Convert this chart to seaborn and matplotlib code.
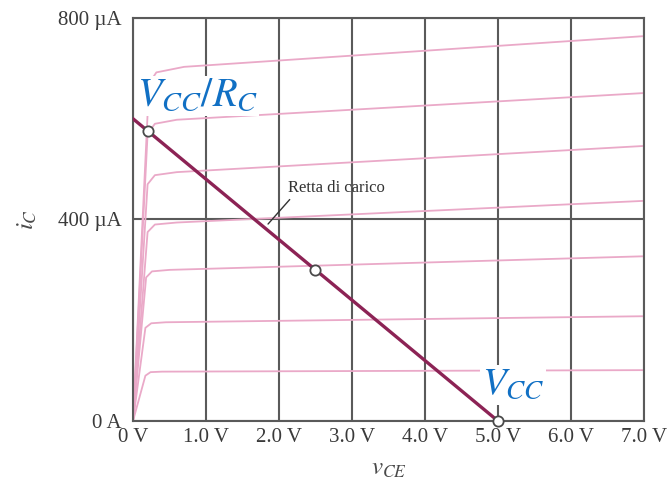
import matplotlib
matplotlib.use("Agg")
import matplotlib.pyplot as plt
import pandas as pd
import seaborn as sns

# Output characteristics i_C(v_CE), one curve per base-current step
curve_vce = [
    [0.0, 0.17, 0.24, 0.40, 7.0],
    [0.0, 0.17, 0.25, 0.45, 7.0],
    [0.0, 0.18, 0.26, 0.50, 7.0],
    [0.0, 0.20, 0.30, 0.60, 7.0],
    [0.0, 0.20, 0.30, 0.60, 7.0],
    [0.0, 0.20, 0.30, 0.60, 7.0],
    [0.0, 0.22, 0.32, 0.70, 7.0],
]
curve_ic = [
    [0, 90, 97, 98, 101],
    [0, 185, 194, 196, 208],
    [0, 285, 297, 300, 327],
    [0, 375, 390, 394, 437],
    [0, 470, 488, 494, 546],
    [0, 570, 590, 598, 651],
    [0, 670, 692, 703, 764],
]

# Load line from V_CC/R_C (v_CE = 0) to V_CC (i_C = 0)
load_vce = [0.0, 5.0]
load_ic = [600, 0]

# Marked operating points on the load line
point_vce = [0.2, 2.5, 5.0]
point_ic = [576, 300, 0]

x_ticks = [0, 1, 2, 3, 4, 5, 6, 7]
x_labels = ["0 V", "1.0 V", "2.0 V", "3.0 V", "4.0 V", "5.0 V", "6.0 V", "7.0 V"]
y_ticks = [0, 400, 800]
y_labels = ["0 A", "400 µA", "800 µA"]

sns.set_theme(style="white")
plt.rcParams["font.family"] = ["Liberation Serif", "DejaVu Serif"]
plt.rcParams["mathtext.fontset"] = "stix"

fig = plt.figure(figsize=(6.7, 4.9), dpi=100)
ax = fig.add_axes([0.1985, 0.1408, 0.7627, 0.8225])

rows = []
for k, (vs, cs) in enumerate(zip(curve_vce, curve_ic)):
    for v, c in zip(vs, cs):
        rows.append({"curve": k, "vce": v, "ic": c})
curves = pd.DataFrame(rows)

sns.lineplot(data=curves, x="vce", y="ic", units="curve", estimator=None,
             sort=False, color="#eaa9c8", linewidth=1.3, ax=ax, zorder=2)

sns.lineplot(x=load_vce, y=load_ic, color="#8c2355", linewidth=2.4,
             ax=ax, zorder=3)

sns.scatterplot(x=point_vce, y=point_ic, s=55, facecolor="white",
                edgecolor="#4a4a4a", linewidth=1.3, ax=ax, zorder=5,
                clip_on=False)

ax.set_xlim(0, 7)
ax.set_ylim(0, 800)
ax.set_xticks(x_ticks)
ax.set_xticklabels(x_labels)
ax.set_yticks(y_ticks)
ax.set_yticklabels(y_labels)
ax.tick_params(axis="both", length=0, labelsize=15, labelcolor="#3a3a3a")
ax.tick_params(axis="x", pad=5)
ax.tick_params(axis="y", pad=8)

ax.grid(True, color="#5a5a5a", linewidth=1.5)
ax.set_axisbelow(True)
for s in ax.spines.values():
    s.set_color("#5a5a5a")
    s.set_linewidth(1.5)

ax.set_xlabel(r"$v_{CE}$", fontsize=18, color="#4a4a4a", labelpad=8)
ax.set_ylabel(r"$i_C$", fontsize=18, color="#4a4a4a", labelpad=14)

# Load-line callout
ax.annotate("Retta di carico", xy=(1.85, 391), xytext=(2.12, 462),
            fontsize=12, color="#333333", va="center", ha="left",
            arrowprops=dict(arrowstyle="-", color="#333333", lw=1.0,
                            shrinkA=0, shrinkB=0,
                            relpos=(0.05, 0.0)), zorder=4)

blue = "#1170c4"
ax.text(0.05, 645, r"$V_{CC}/R_C$", fontsize=29, color=blue,
        ha="left", va="center", zorder=2.6,
        bbox=dict(facecolor="white", edgecolor="none", pad=1))
ax.text(4.78, 72, r"$V_{CC}$", fontsize=28, color=blue,
        ha="left", va="center", zorder=2.6,
        bbox=dict(facecolor="white", edgecolor="none", pad=1))

fig.savefig("out.png", dpi=100, facecolor="white")
